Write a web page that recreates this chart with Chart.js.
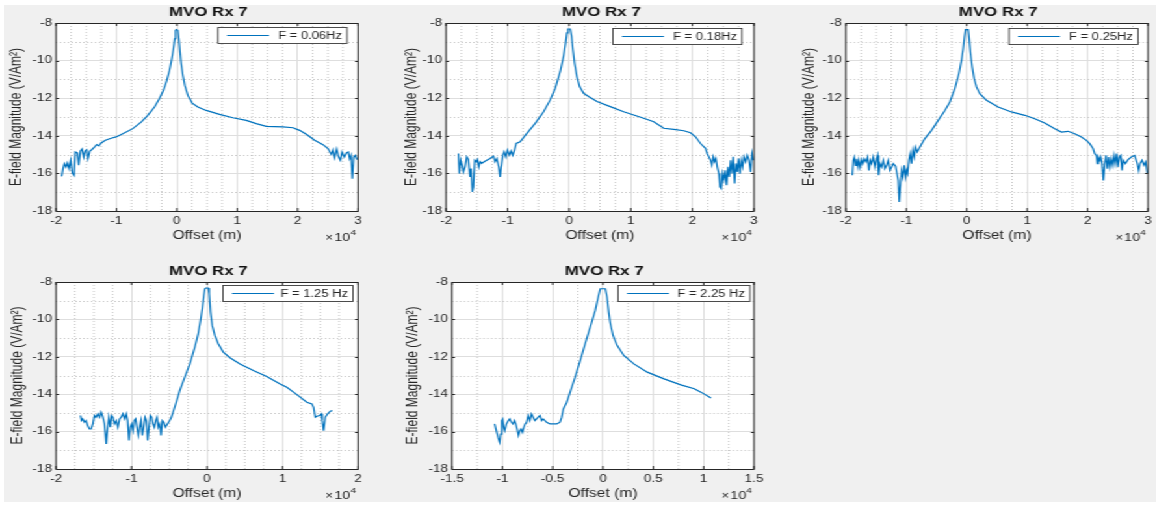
<!DOCTYPE html>
<html>
<head>
<meta charset="utf-8">
<title>MVO Rx 7</title>
<script src="https://cdn.jsdelivr.net/npm/chart.js@4.4.1/dist/chart.umd.min.js"></script>
<style>
  html, body { margin: 0; padding: 0; background: #ffffff; overflow: hidden; width: 1156px; height: 506px; }
  #panel { position: absolute; left: 4px; top: 5px; width: 1152px; height: 497px; background: #f0f0f0; }
  #stage { position: absolute; left: 0; top: 0; width: 890px; height: 506px; transform: scaleX(1.3); transform-origin: 0 0; }
  #stage canvas { position: absolute; left: 0; top: 0; }
</style>
</head>
<body>
<div id="panel"></div>
<div id="stage"></div>
<script>
// ---- data: offset in metres, E-field magnitude (log10 V/Am^2) ----
const offset006 = [-19061,-18840,-18619,-18342,-18121,-17845,-17569,-17293,-17017,-16795,-16464,-16243,-15967,-15690,-15414,-15193,-14917,-14696,-14420,-14088,-13646,-13260,-12928,-12541,-11823,-10884,-10055,-8950,-7293,-5912,-4806,-3701,-2873,-2210,-1657,-1215,-829,-552,-331,-221,-110,166,332,498,719,995,1327,1824,2542,3481,4863,7073,9283,11493,13150,14808,17570,19228,20333,21438,22819,24200,25029,25582,25858,26134,26466,26797,27073,27350,27737,28068,28400,28620,28841,29062,29283,29560,29836];
const emag006 = [-16.16,-15.75,-15.48,-15.66,-15.45,-15.75,-15.30,-15.98,-16.10,-14.86,-14.91,-15.57,-14.81,-14.70,-15.13,-14.81,-14.74,-15.20,-14.81,-14.74,-14.60,-14.47,-14.54,-14.38,-14.24,-14.13,-14.06,-13.89,-13.62,-13.27,-12.91,-12.47,-12.02,-11.58,-11.05,-10.52,-9.90,-9.37,-8.83,-8.39,-8.35,-8.39,-8.83,-9.45,-10.16,-10.78,-11.32,-11.85,-12.26,-12.47,-12.65,-12.86,-13.04,-13.18,-13.35,-13.50,-13.53,-13.57,-13.71,-13.92,-14.24,-14.47,-14.68,-14.99,-14.74,-15.16,-14.70,-15.13,-15.30,-14.86,-15.13,-14.91,-14.86,-15.22,-15.04,-16.28,-15.13,-15.04,-15.27];

const offset018 = [-17993,-17831,-17614,-17397,-17180,-16909,-16638,-16367,-16095,-15933,-15716,-15553,-15336,-15119,-14902,-14685,-14469,-14198,-13818,-13384,-12842,-12300,-12029,-11758,-11432,-11215,-11052,-10781,-10564,-10293,-10022,-9696,-9425,-9154,-8883,-8612,-7961,-6876,-5520,-4164,-3080,-2267,-1454,-911,-586,-369,-207,172,389,606,877,1256,1690,2341,3154,4510,6679,8849,10475,12102,13729,15356,16983,18610,19694,20508,21321,22135,22406,22677,22948,23165,23382,23599,23816,24033,24304,24467,24684,24901,25118,25335,25552,25769,25986,26203,26420,26637,26854,27071,27288,27505,27722,27939,28156,28373,28644,28915,29187,29458,29675,29892];
const emag018 = [-14.94,-16.01,-15.30,-15.56,-15.92,-15.65,-15.12,-15.26,-16.19,-15.74,-16.99,-16.72,-15.30,-15.38,-15.26,-15.65,-15.38,-15.47,-15.38,-15.30,-15.21,-15.08,-15.38,-15.21,-15.65,-16.19,-15.65,-15.03,-14.85,-15.12,-14.76,-15.03,-14.80,-15.03,-14.76,-14.41,-14.32,-13.87,-13.34,-12.72,-12.09,-11.47,-10.58,-9.78,-9.07,-8.53,-8.32,-8.32,-8.71,-9.42,-10.14,-10.85,-11.38,-11.74,-11.91,-12.18,-12.45,-12.72,-12.89,-13.07,-13.25,-13.60,-13.66,-13.73,-13.84,-14.05,-14.41,-14.67,-14.94,-15.12,-15.30,-15.56,-15.12,-15.38,-15.21,-15.65,-16.01,-16.72,-16.81,-16.01,-16.36,-15.83,-16.63,-15.65,-16.19,-15.30,-16.01,-15.12,-16.54,-15.47,-15.92,-15.21,-16.01,-15.30,-15.65,-15.12,-15.38,-15.03,-15.30,-15.92,-14.94,-15.30];

const offset025 = [-18953,-18787,-18622,-18402,-18236,-18016,-17850,-17629,-17409,-17188,-16968,-16692,-16417,-16196,-15976,-15755,-15480,-15204,-14983,-14763,-14597,-14377,-14101,-13825,-13550,-13274,-12998,-12723,-12447,-12171,-11786,-11345,-11179,-11014,-10793,-10573,-10352,-10132,-9966,-9801,-9580,-9360,-9139,-8919,-8698,-8478,-8202,-7761,-6934,-5831,-4729,-3626,-2799,-1972,-1311,-870,-594,-374,-209,232,398,618,894,1224,1610,2161,3264,5194,7399,9604,11258,12912,14566,15669,16771,17874,18977,19804,20355,20906,21182,21458,21623,21789,22009,22175,22395,22616,22836,23057,23277,23498,23718,23939,24159,24380,24600,24821,25041,25262,25482,25703,25923,26254,26695,27246,27798,28239,28459,28680,29011,29342,29617,29893];
const emag025 = [-16.10,-15.30,-15.13,-15.57,-15.22,-15.66,-15.30,-15.66,-15.27,-15.48,-15.22,-15.39,-15.13,-15.84,-15.30,-15.48,-15.13,-15.66,-15.30,-15.04,-16.10,-15.48,-15.66,-15.30,-15.75,-15.57,-15.30,-15.84,-15.66,-15.48,-15.62,-16.37,-17.52,-16.72,-15.84,-16.19,-15.57,-16.19,-15.84,-16.01,-15.30,-14.95,-15.48,-14.77,-15.13,-14.60,-14.86,-14.60,-14.15,-13.71,-13.18,-12.65,-12.20,-11.49,-10.70,-9.99,-9.37,-8.74,-8.35,-8.35,-8.83,-9.63,-10.34,-10.96,-11.40,-11.76,-12.11,-12.47,-12.73,-12.91,-13.09,-13.32,-13.62,-13.80,-13.76,-13.89,-14.06,-14.24,-14.42,-14.68,-14.95,-15.04,-15.48,-15.13,-15.30,-15.13,-15.48,-16.37,-15.48,-15.04,-15.75,-15.13,-15.66,-15.22,-15.57,-15.04,-15.48,-14.95,-15.66,-15.13,-15.04,-15.84,-15.30,-15.48,-15.27,-15.13,-15.04,-15.48,-15.84,-15.48,-15.30,-15.57,-15.39,-16.01];

const offset125 = [-16766,-16633,-16456,-16234,-16013,-15792,-15570,-15349,-15127,-14906,-14684,-14463,-14241,-14020,-13798,-13577,-13355,-13178,-13001,-12823,-12646,-12469,-12248,-12026,-11805,-11583,-11362,-11140,-10919,-10697,-10520,-10343,-10166,-9988,-9811,-9634,-9457,-9280,-9102,-8925,-8748,-8571,-8394,-8216,-8039,-7862,-7685,-7508,-7330,-7153,-6976,-6799,-6622,-6444,-6267,-6090,-5913,-5736,-5514,-5248,-4938,-4717,-4495,-4141,-3609,-2945,-2280,-1616,-1173,-818,-597,-419,-287,-154,156,289,466,687,1042,1485,2150,3036,4365,6137,7909,9681,10567,11453,12339,13225,13890,14111,14333,14554,14908,15130,15263,15440,15661,15971,16326,16592];
const emag125 = [-15.14,-15.41,-15.32,-15.50,-15.41,-15.68,-15.86,-15.86,-15.59,-15.14,-15.23,-15.05,-15.23,-14.96,-15.23,-15.59,-16.66,-15.77,-15.23,-15.77,-15.14,-15.23,-15.59,-15.41,-15.77,-15.32,-15.23,-15.05,-15.32,-15.05,-15.41,-16.48,-15.77,-15.59,-15.95,-15.41,-15.32,-15.77,-16.21,-15.77,-15.41,-16.21,-15.77,-15.23,-15.41,-16.48,-15.77,-15.14,-15.23,-15.59,-15.77,-15.41,-15.23,-15.77,-15.59,-16.21,-15.41,-15.50,-15.77,-15.59,-15.41,-15.23,-14.96,-14.52,-13.80,-13.09,-12.38,-11.48,-10.77,-9.96,-9.34,-8.71,-8.36,-8.32,-8.32,-8.63,-9.61,-10.32,-10.86,-11.30,-11.75,-12.05,-12.38,-12.73,-13.05,-13.45,-13.63,-13.89,-14.16,-14.43,-14.52,-14.70,-15.23,-15.18,-15.14,-15.05,-15.41,-15.95,-15.23,-15.05,-14.91,-14.88];

const offset225 = [-10767,-10600,-10434,-10267,-10167,-10067,-9967,-9867,-9767,-9600,-9400,-9267,-9100,-8934,-8800,-8667,-8534,-8400,-8267,-8134,-8000,-7867,-7734,-7600,-7434,-7267,-7100,-6934,-6767,-6600,-6434,-6267,-6100,-5934,-5600,-5267,-4934,-4600,-4267,-4100,-3933,-3600,-3267,-2767,-2267,-1767,-1267,-767,-434,-267,-100,233,400,567,733,1000,1400,2066,3066,4400,6066,7733,9066,9733,10733];
const emag225 = [-15.59,-15.95,-16.30,-16.57,-16.13,-15.41,-15.32,-15.77,-15.95,-15.59,-15.41,-15.32,-15.50,-15.59,-15.41,-15.59,-15.86,-16.21,-15.95,-15.86,-16.04,-15.77,-15.59,-15.50,-15.14,-15.41,-15.05,-15.23,-15.41,-15.32,-15.23,-15.14,-15.41,-15.32,-15.50,-15.59,-15.59,-15.59,-15.50,-15.23,-14.79,-14.43,-13.89,-13.09,-12.20,-11.30,-10.41,-9.52,-8.71,-8.36,-8.36,-8.36,-8.80,-9.61,-10.23,-10.86,-11.39,-11.93,-12.38,-12.82,-13.18,-13.50,-13.71,-13.89,-14.20];

// ---- labels and tick values ----
const plotTitle = 'MVO Rx 7';
const freqLabels = ['F = 0.06Hz', 'F = 0.18Hz', 'F = 0.25Hz', 'F = 1.25 Hz', 'F = 2.25 Hz'];
const yTickValues = [-18, -16, -14, -12, -10, -8];
const xTicksWide = [-20000, -10000, 0, 10000, 20000, 30000];
const xTicksMid = [-20000, -10000, 0, 10000, 20000];
const xTicksNarrow = [-15000, -10000, -5000, 0, 5000, 10000, 15000];
const xLabel = 'Offset (m)';
const yLabel = 'E-field Magnitude (V/Am\u00B2)';

// ---- figure geometry (page pixels) ----
const K = 1.3;                  // horizontal stretch applied to #stage
const STAGE_W = 890, STAGE_H = 506;
const Y_AXIS_W = 56, X_AXIS_H = 36;
const FONT = "'Liberation Sans', Arial, Helvetica, sans-serif";
const INK = '#262626';
const LINE_BLUE = '#0072BD';

const panels = [
  { l: 56,  t: 23,  r: 358,  b: 211, yLab: 17,  leg: { dr: 11, dt: 4, w: 129 }, xs: offset006, ys: emag006, xt: xTicksWide,   minor: 2500 },
  { l: 446, t: 23,  r: 754,  b: 211, yLab: 412, leg: { dr: 12, dt: 5, w: 129 }, xs: offset018, ys: emag018, xt: xTicksWide,   minor: 2500 },
  { l: 846, t: 23,  r: 1150, b: 211, yLab: 810, leg: { dr: 12, dt: 5, w: 129 }, xs: offset025, ys: emag025, xt: xTicksWide,   minor: 2500 },
  { l: 56,  t: 282, r: 358,  b: 469, yLab: 18,  leg: { dr: 5,  dt: 3, w: 130 }, xs: offset125, ys: emag125, xt: xTicksMid,    minor: 2500 },
  { l: 452, t: 282, r: 754,  b: 469, yLab: 413, leg: { dr: 4,  dt: 3, w: 132 }, xs: offset225, ys: emag225, xt: xTicksNarrow, minor: 2500 }
];

// axes decorations: white plot background, minor grid, box, inward ticks, legend, title, exponent
const axesDecor = {
  id: 'axesDecor',
  beforeDraw(chart) {
    const a = chart.chartArea, ctx = chart.ctx;
    ctx.save();
    ctx.fillStyle = '#ffffff';
    ctx.fillRect(a.left, a.top, a.right - a.left, a.bottom - a.top);
    ctx.restore();
  },
  beforeDatasetsDraw(chart, args, o) {
    const a = chart.chartArea, ctx = chart.ctx;
    const xs = chart.scales.x, ys = chart.scales.y;
    ctx.save();
    ctx.strokeStyle = 'rgba(0,0,0,0.24)';
    ctx.lineWidth = 1;
    ctx.setLineDash([1, 2]);
    const majX = o.xMajor;
    for (let v = xs.min; v <= xs.max + 1e-6; v += o.xMinor) {
      if (majX.some(m => Math.abs(m - v) < 1e-6)) continue;
      const px = xs.getPixelForValue(v);
      ctx.beginPath(); ctx.moveTo(px, a.top); ctx.lineTo(px, a.bottom); ctx.stroke();
    }
    for (let v = ys.min; v <= ys.max + 1e-9; v += 1) {
      if (yTickValues.includes(v)) continue;
      const py = Math.round(ys.getPixelForValue(v)) + 0.5;
      ctx.beginPath(); ctx.moveTo(a.left, py); ctx.lineTo(a.right, py); ctx.stroke();
    }
    ctx.restore();
  },
  afterDatasetsDraw(chart, args, o) {
    const a = chart.chartArea, ctx = chart.ctx;
    const xs = chart.scales.x, ys = chart.scales.y;
    ctx.save();
    // inward tick marks on all four sides
    ctx.strokeStyle = INK; ctx.lineWidth = 1;
    o.xMajor.forEach(v => {
      const px = xs.getPixelForValue(v);
      ctx.beginPath();
      ctx.moveTo(px, a.bottom); ctx.lineTo(px, a.bottom - 3);
      ctx.moveTo(px, a.top); ctx.lineTo(px, a.top + 3);
      ctx.stroke();
    });
    yTickValues.forEach(v => {
      const py = Math.round(ys.getPixelForValue(v)) + 0.5;
      ctx.beginPath();
      ctx.moveTo(a.left, py); ctx.lineTo(a.left + 3 / K, py);
      ctx.moveTo(a.right, py); ctx.lineTo(a.right - 3 / K, py);
      ctx.stroke();
    });
    // axes box
    ctx.strokeRect(a.left, Math.round(a.top) + 0.5, a.right - a.left, Math.round(a.bottom) - Math.round(a.top));

    // legend box
    const ds = chart.data.datasets[0];
    const bR = (o.p.r - o.p.leg.dr) / K;
    const bL = bR - o.p.leg.w / K;
    const bT = o.p.t + o.p.leg.dt + 0.5;
    const bH = 16;
    ctx.fillStyle = '#ffffff';
    ctx.fillRect(bL, bT, bR - bL, bH);
    ctx.strokeStyle = '#3a3a3a'; ctx.lineWidth = 0.9;
    ctx.strokeRect(bL, bT, bR - bL, bH);
    ctx.strokeStyle = ds.borderColor; ctx.lineWidth = 1.2;
    ctx.beginPath();
    ctx.moveTo(bL + 9 / K, bT + bH / 2); ctx.lineTo(bL + 51 / K, bT + bH / 2);
    ctx.stroke();
    ctx.fillStyle = INK;
    ctx.font = '10px ' + FONT;
    ctx.textAlign = 'right'; ctx.textBaseline = 'middle';
    ctx.fillText(ds.label, bR - 5 / K, bT + bH / 2 + 0.5);

    // title
    ctx.fillStyle = '#111111';
    ctx.font = 'bold 13px ' + FONT;
    ctx.textAlign = 'center'; ctx.textBaseline = 'middle';
    ctx.fillText(plotTitle, (a.left + a.right) / 2 + 1, a.top - 11);

    // x-axis exponent  x10^4
    const right = a.right - 2 / K;
    ctx.textAlign = 'left';
    ctx.font = '8px ' + FONT;
    const w4 = ctx.measureText('4').width;
    ctx.font = '11px ' + FONT;
    const w10 = ctx.measureText('10').width;
    ctx.font = '10px ' + FONT;
    const wx = ctx.measureText('\u00D7').width;
    let x0 = right - w4 - w10 - wx - 1;
    ctx.fillStyle = INK;
    ctx.fillText('\u00D7', x0, a.bottom + 27);
    ctx.font = '11px ' + FONT;
    ctx.fillText('10', x0 + wx + 1, a.bottom + 26.5);
    ctx.font = '8px ' + FONT;
    ctx.fillText('4', x0 + wx + 1 + w10, a.bottom + 21.5);
    ctx.restore();
  }
};

const stage = document.getElementById('stage');

panels.forEach((p, i) => {
  const canvas = document.createElement('canvas');
  canvas.width = STAGE_W; canvas.height = STAGE_H;
  canvas.style.width = STAGE_W + 'px'; canvas.style.height = STAGE_H + 'px';
  stage.appendChild(canvas);

  const pts = p.xs.map((x, j) => ({ x: x, y: p.ys[j] }));
  const yTitlePad = (p.yLab - p.l + Y_AXIS_W) / K - 7.2;

  new Chart(canvas.getContext('2d'), {
    type: 'line',
    data: {
      datasets: [{
        label: freqLabels[i],
        data: pts,
        borderColor: LINE_BLUE,
        borderWidth: 1.2,
        pointRadius: 0,
        tension: 0,
        fill: false
      }]
    },
    options: {
      responsive: false,
      animation: false,
      events: [],
      layout: {
        padding: {
          left: (p.l - Y_AXIS_W) / K,
          top: p.t,
          right: STAGE_W - p.r / K,
          bottom: STAGE_H - p.b - X_AXIS_H
        }
      },
      plugins: {
        legend: { display: false },
        title: { display: false },
        tooltip: { enabled: false },
        axesDecor: { p: p, xMajor: p.xt, xMinor: p.minor }
      },
      scales: {
        x: {
          type: 'linear',
          min: p.xt[0],
          max: p.xt[p.xt.length - 1],
          afterBuildTicks: s => { s.ticks = p.xt.map(v => ({ value: v })); },
          afterFit: s => { s.height = X_AXIS_H; },
          grid: { color: '#dedede', lineWidth: 1, drawTicks: false },
          border: { display: false },
          ticks: {
            padding: 4,
            color: INK,
            autoSkip: false,
            maxRotation: 0,
            font: { family: FONT, size: 10.5 },
            callback: v => String(v / 1e4)
          },
          title: {
            display: true,
            text: xLabel,
            color: INK,
            font: { family: FONT, size: 12 },
            padding: { top: 0, bottom: 3.8 }
          }
        },
        y: {
          type: 'linear',
          min: yTickValues[0],
          max: yTickValues[yTickValues.length - 1],
          afterBuildTicks: s => { s.ticks = yTickValues.map(v => ({ value: v })); },
          afterFit: s => { s.width = Y_AXIS_W / K; },
          grid: { color: '#dedede', lineWidth: 1, drawTicks: false },
          border: { display: false },
          ticks: {
            padding: 4 / K,
            color: INK,
            font: { family: FONT, size: 10.5 },
            callback: v => String(v)
          },
          title: {
            display: true,
            text: yLabel,
            color: INK,
            font: { family: FONT, size: 12 },
            padding: { top: yTitlePad, bottom: 0 }
          }
        }
      }
    },
    plugins: [axesDecor]
  });
});
</script>
</body>
</html>
